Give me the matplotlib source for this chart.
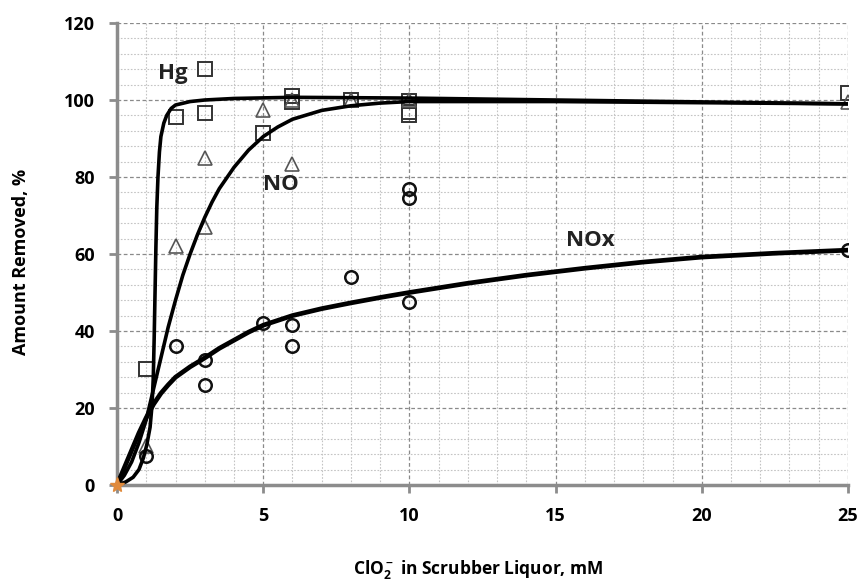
import matplotlib.pyplot as plt
from matplotlib.ticker import MultipleLocator

plt.rcParams['font.family'] = ['Open Sans', 'DejaVu Sans']
plt.rcParams['mathtext.default'] = 'regular'

# --- measured points ---
hg_x = [1, 2, 3, 3, 5, 6, 6, 8, 10, 10, 10, 25]
hg_y = [30, 95.5, 108, 96.5, 91.5, 101, 99.5, 100, 99.7, 97, 96, 101.8]

no_x = [1, 2, 3, 3, 5, 6, 6, 8, 10, 25]
no_y = [10, 62, 85, 67, 97.5, 83.5, 100, 100, 100, 99.5]

nox_x = [1, 2, 3, 3, 5, 6, 6, 8, 10, 10, 10, 25]
nox_y = [7.5, 36, 32.5, 26, 42, 41.5, 36, 54, 47.5, 77, 74.5, 61]

# --- fitted curves ---
hg_cx = [0, 0.3, 0.55, 0.75, 0.9, 1.02, 1.13, 1.2, 1.24, 1.27, 1.3, 1.33, 1.36,
         1.4, 1.45, 1.5, 1.6, 1.7, 1.85, 2, 2.5, 3, 4, 6, 10, 15, 20, 25]
hg_cy = [0, 0.8, 2, 4, 7, 10.5, 15, 21, 28, 38, 50, 62, 72,
         80, 86.5, 90.5, 94, 96, 97.8, 98.7, 99.6, 100, 100.4, 100.7, 100.5, 100, 99.5, 99]

no_cx = [0, 0.25, 0.5, 0.75, 1, 1.25, 1.5, 1.75, 2, 2.25, 2.5, 2.75, 3, 3.25,
         3.5, 4, 4.5, 5, 5.5, 6, 7, 8, 9, 10, 15, 25]
no_cy = [0, 2.5, 6, 11, 17, 25, 33, 41, 48, 54.5, 60, 65, 69.5, 73.5,
         77, 82.5, 87, 90.5, 93, 95, 97.3, 98.5, 99.2, 99.6, 99.6, 99]

nox_cx = [0, 0.25, 0.5, 0.75, 1, 1.25, 1.5, 1.75, 2, 2.5, 3, 3.5, 4, 4.5, 5,
          6, 7, 8, 9, 10, 12, 14, 16, 18, 20, 22.5, 25]
nox_cy = [0, 4.5, 9, 13.5, 17.5, 21, 23.8, 26, 28, 30.7, 33, 35.5, 37.6, 39.7, 41.5,
          44, 45.8, 47.3, 48.7, 50, 52.4, 54.5, 56.3, 57.9, 59.2, 60.2, 61]

labels = ["Hg", "NO", "NOx"]
label_x = [1.9, 5.6, 16.2]
label_y = [107, 78, 63.5]

fig = plt.figure(figsize=(8.65, 5.87), dpi=100)
ax = fig.add_axes([0.1353, 0.1738, 0.8450, 0.7870])

ax.plot(hg_cx, hg_cy, color="black", lw=2.6, zorder=4, solid_joinstyle="round")
ax.plot(no_cx, no_cy, color="black", lw=2.6, zorder=4, solid_joinstyle="round")
ax.plot(nox_cx, nox_cy, color="black", lw=3.4, zorder=4, solid_joinstyle="round")

ax.plot(hg_x, hg_y, "s", ms=10, mfc="none", mec="#333333", mew=1.4, zorder=3)
ax.plot(no_x, no_y, "^", ms=10, mfc="none", mec="#555555", mew=1.2, zorder=3)
ax.plot(nox_x, nox_y, "o", ms=9, mfc="none", mec="#111111", mew=1.8, zorder=3)
ax.plot([0], [0], "*", ms=11, color="#e08a3c", zorder=5, clip_on=False)

for t, x, y in zip(labels, label_x, label_y):
    ax.text(x, y, t, fontsize=16, fontweight="bold", color="#222222",
            ha="center", va="center")

ax.set_xlim(0, 25)
ax.set_ylim(0, 120)
ax.xaxis.set_major_locator(MultipleLocator(5))
ax.xaxis.set_minor_locator(MultipleLocator(1))
ax.yaxis.set_major_locator(MultipleLocator(20))
ax.yaxis.set_minor_locator(MultipleLocator(4))

ax.grid(which="major", color="#8a8a8a", ls=(0, (3, 2)), lw=0.9)
ax.grid(which="minor", color="#c4c4c4", ls=(0, (1.5, 1.5)), lw=0.8)
ax.set_axisbelow(True)

for s in ["top", "right"]:
    ax.spines[s].set_visible(False)
for s in ["left", "bottom"]:
    ax.spines[s].set_color("#8c8c8c")
    ax.spines[s].set_linewidth(2.5)
    ax.spines[s].set_zorder(2)

ax.tick_params(which="major", direction="out", length=6, width=2, color="#8c8c8c",
               labelsize=13, pad=10)
ax.tick_params(which="minor", length=0)
for lab in ax.get_xticklabels() + ax.get_yticklabels():
    lab.set_fontweight("bold")

ax.set_ylabel("Amount Removed, %", fontsize=13, fontweight="bold")
ax.set_xlabel(r"ClO$_2^-$ in Scrubber Liquor, mM", fontsize=12.5, fontweight="bold")
ax.yaxis.set_label_coords(-0.119, 0.483)
ax.xaxis.set_label_coords(0.494, -0.158)

fig.savefig("out.png", dpi=100)
